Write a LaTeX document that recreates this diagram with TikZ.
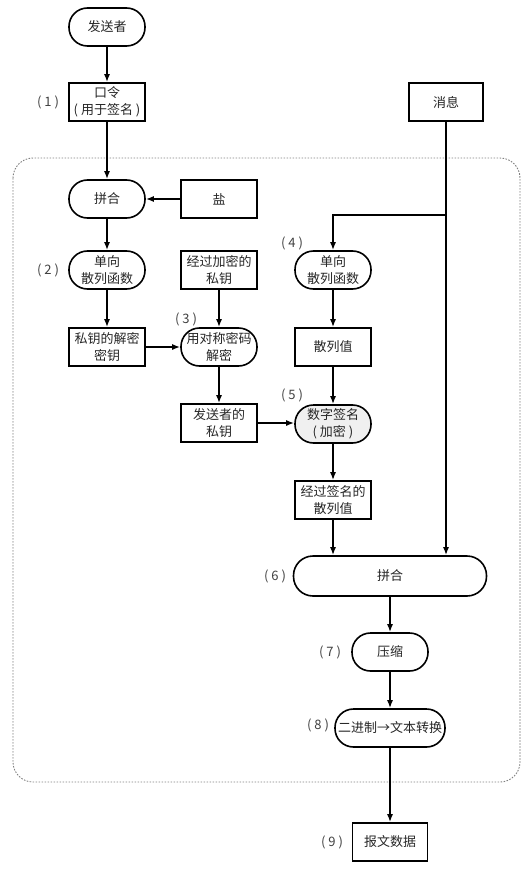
\documentclass[tikz,border=0pt]{standalone}
\usepackage{fontspec}
\setmainfont{Noto Sans CJK SC}
\usetikzlibrary{arrows.meta,calc}
\begin{document}
\begin{tikzpicture}[x=1pt,y=-1pt,
  every node/.style={font=\fontsize{13}{17.5}\selectfont, text=black!85, align=center, inner sep=1pt},
  boxn/.style={draw, line width=1.6pt, rectangle, minimum width=76pt, minimum height=38pt},
  pill/.style={draw, line width=1.6pt, rectangle, rounded corners=18.5pt, minimum width=76pt, minimum height=38pt},
  arr/.style={line width=1.5pt, -{Latex[length=8pt,width=6pt]}},
  lbl/.style={font=\fontsize{13}{14}\selectfont, text=black!75}
]
\useasboundingbox (0,0) rectangle (531,869);
% dotted frame
\draw[gray, line width=0.9pt, dash pattern=on 1.6pt off 1.4pt, rounded corners=20pt] (13,158) rectangle (520,782);

\node[pill] (snd) at (107,27) {发送者};
\node[boxn] (pw) at (107,102) {口令\\( 用于签名 )};
\node[lbl] (l1) at (48,102) {( 1 )};

\node[pill] (cat1) at (107,199) {拼合};
\node[boxn] (salt) at (219,199) {盐};
\node[pill] (hash1) at (107,270) {单向\\散列函数};
\node[lbl] (l2) at (48,270) {( 2 )};
\node[boxn] (enc) at (219,270) {经过加密的\\私钥};
\node[boxn] (dk) at (107,347) {私钥的解密\\密钥};
\node[pill] (sym) at (219,347) {用对称密码\\解密};
\node[lbl] (l3) at (186,319) {( 3 )};
\node[boxn] (priv) at (219,423) {发送者的\\私钥};

\node[boxn, minimum width=74pt] (msg) at (446,102) {消息};
\node[pill] (hash2) at (333,270) {单向\\散列函数};
\node[lbl] (l4) at (292,243) {( 4 )};
\node[boxn] (hv) at (333,347) {散列值};
\node[pill, fill=black!6] (sig) at (333,424) {数字签名\\( 加密 )};
\node[lbl] (l5) at (292,395) {( 5 )};
\node[boxn] (shv) at (333,500) {经过签名的\\散列值};

\node[pill, minimum width=193pt, minimum height=40pt, rounded corners=19.5pt] (cat6) at (390,576) {拼合};
\node[lbl] (l6) at (275,576) {( 6 )};
\node[pill] (comp) at (390,652) {压缩};
\node[lbl] (l7) at (330,652) {( 7 )};
\node[pill, minimum width=110pt] (b2t) at (390,728) {二进制→文本转换};
\node[lbl] (l8) at (318,725) {( 8 )};
\node[boxn, minimum width=75pt] (out) at (390,842) {报文数据};
\node[lbl] (l9) at (332,842) {( 9 )};

\coordinate (br) at (446,215);

\draw[arr] (snd) -- (pw);
\draw[arr] (pw) -- (cat1);
\draw[arr] (salt) -- (cat1);
\draw[arr] (cat1) -- (hash1);
\draw[arr] (hash1) -- (dk);
\draw[arr] (dk) -- (sym);
\draw[arr] (enc) -- (sym);
\draw[arr] (sym) -- (priv);
\draw[arr] (priv.east) -- (priv.east -| sig.west);
\draw[arr] (msg.south) -- (msg.south |- cat6.north);
\draw[arr] (br) -| (hash2.north);
\draw[arr] (hash2) -- (hv);
\draw[arr] (hv) -- (sig);
\draw[arr] (sig) -- (shv);
\draw[arr] (shv.south) -- (shv.south |- cat6.north);
\draw[arr] (cat6.south -| comp.north) -- (comp.north);
\draw[arr] (comp.south) -- (comp.south |- b2t.north);
\draw[arr] (b2t.south -| out.north) -- (out.north);
\end{tikzpicture}
\end{document}
